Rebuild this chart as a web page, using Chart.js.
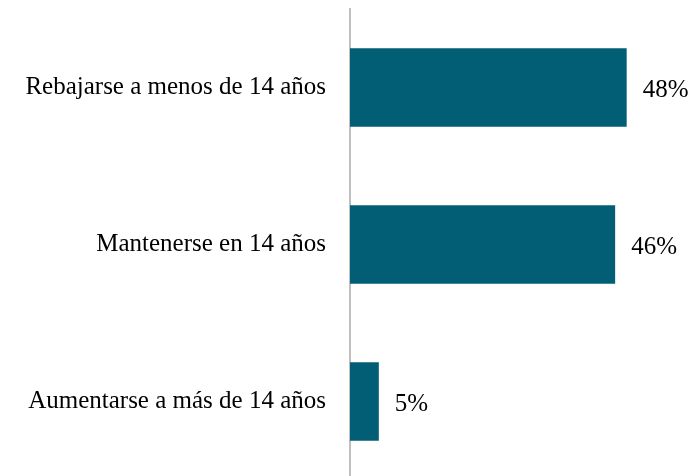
<!DOCTYPE html>
<html>
<head>
<meta charset="utf-8">
<script src="https://cdn.jsdelivr.net/npm/chart.js@4"></script>
<style>
  html, body { margin: 0; padding: 0; background: #fff; overflow: hidden; }
</style>
</head>
<body>
<canvas id="chart" width="697" height="480"></canvas>
<script>
// datos
const categorias = ['Rebajarse a menos de 14 años', 'Mantenerse en 14 años', 'Aumentarse a más de 14 años'];
const porcentajes = [48, 46, 5];

const fuente = '"Liberation Serif", "DejaVu Serif", serif';

// etiquetas de valor a la derecha de cada barra
const etiquetas = {
  id: 'etiquetas',
  afterDatasetsDraw(chart) {
    const ctx = chart.ctx;
    const meta = chart.getDatasetMeta(0);
    ctx.save();
    ctx.font = '25px ' + fuente;
    ctx.fillStyle = '#000';
    ctx.textBaseline = 'middle';
    ctx.textAlign = 'left';
    meta.data.forEach((bar, i) => {
      ctx.fillText(porcentajes[i] + '%', bar.x + 16, bar.y + 3);
    });
    ctx.restore();
  }
};

new Chart(document.getElementById('chart'), {
  type: 'bar',
  data: {
    labels: categorias,
    datasets: [{
      data: porcentajes,
      backgroundColor: '#025E74',
      barPercentage: 0.5,
      categoryPercentage: 1
    }]
  },
  options: {
    indexAxis: 'y',
    responsive: false,
    animation: false,
    layout: { padding: { top: 9, right: 0, bottom: 0, left: 0 } },
    plugins: { legend: { display: false }, tooltip: { enabled: false } },
    scales: {
      x: { display: false, min: 0, max: 60.2 },
      y: {
        afterFit(s) { s.width = 350; s.paddingTop = 0; s.paddingBottom = 0; },
        grid: { display: false },
        border: { color: '#BFBFBF', width: 2 },
        ticks: { color: '#000', padding: 16, font: { family: fuente, size: 25 } }
      }
    }
  },
  plugins: [etiquetas]
});
</script>
</body>
</html>
